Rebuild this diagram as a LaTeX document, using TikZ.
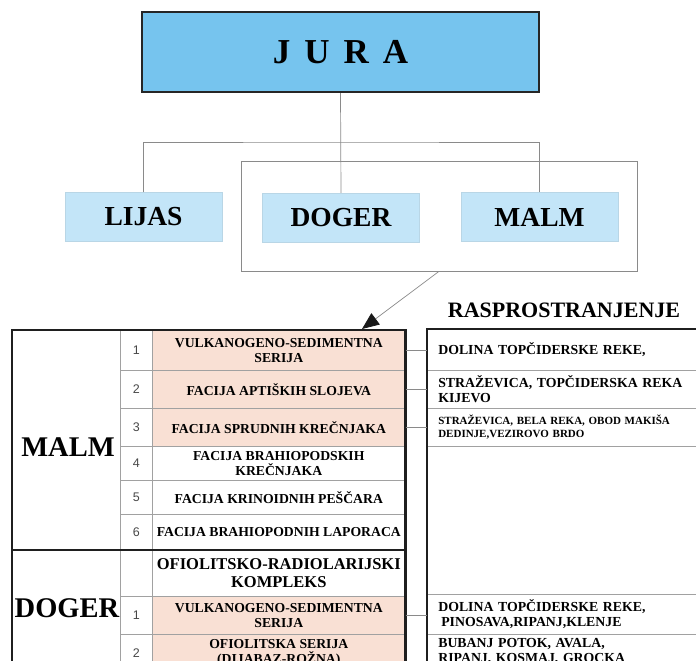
\documentclass[tikz,border=0pt]{standalone}
\usepackage{fontspec}
\setmainfont{Liberation Serif}
\newfontfamily\numfont{Liberation Sans}
\usepackage{xcolor}
\usetikzlibrary{arrows.meta}
\definecolor{JuraBlue}{HTML}{76C4EE}
\definecolor{EraBlue}{HTML}{C3E5F8}
\definecolor{FacPink}{HTML}{F9E0D4}
\definecolor{RuleGray}{HTML}{8A8A8A}
\tikzset{
juracell/.style = {rectangle, fill=JuraBlue, draw=black!85, line width=2.4pt,
                   minimum width=397pt, minimum height=80pt,
                   font=\bfseries\fontsize{35}{38}\selectfont},
era/.style = {rectangle, fill=EraBlue, draw=EraBlue!85!gray,
              minimum width=157pt, minimum height=49pt,
              font=\bfseries\fontsize{27.5}{30}\selectfont},
link/.style = {draw=RuleGray, line width=0.7pt},
thickframe/.style = {draw=black!88, line width=2.4pt}
}
\tikzset{
num/.style = {rectangle, draw=RuleGray!80, line width=0.6pt, minimum width=32pt,
              minimum height=#1, inner sep=0pt, anchor=north west,
              font=\numfont\fontsize{12.5}{14}\selectfont, text=black!72},
fac/.style = {rectangle, draw=RuleGray!80, line width=0.6pt, minimum width=253pt,
              minimum height=#1, inner sep=0pt, anchor=north west, align=center,
              font=\bfseries\fontsize{13.7}{15}\selectfont},
loc/.style = {rectangle, draw=RuleGray!80, line width=0.6pt, text width=271pt,
              inner xsep=11pt, inner ysep=0pt, minimum height=#1,
              anchor=north west, align=left,
              font=\bfseries\fontsize{13.8}{14.5}\selectfont},
bigname/.style = {font=\bfseries\fontsize{28.5}{30}\selectfont}
}

\begin{document}
\begin{tikzpicture}[x=1pt, y=-1pt]
\useasboundingbox (0,0) rectangle (696,661);
\clip (0,0) rectangle (696,661);

% upper part: the period and its epochs
\node[juracell] (jura) at (340.5,52) {J\hspace{14pt}U\hspace{14pt}R\hspace{14pt}A};
\node[era] (lijas) at (143.5,217) {LIJAS};
\node[era] (doger) at (341,217.5) {DOGER};
\node[era] (malm)  at (539.5,217) {MALM};
\node[rectangle, link, minimum width=396pt, minimum height=110pt] (grp) at (439,216) {};
\coordinate (split) at (341,142);
\coordinate (tip) at (362,329);

\draw [link] (jura.south) -- (doger.north);
\draw [link] (lijas.north) |- (split) -| (malm.north);
\draw [link, -{Triangle[length=17pt, width=14pt, color=black!90]}] (grp.south) -- (tip);

% table of facies
\node[num=40pt] (n1) at (120,330) {1};
\node[num=38pt] (n2) at (120,370) {2};
\node[num=38pt] (n3) at (120,408) {3};
\node[num=34pt] (n4) at (120,446) {4};
\node[num=34pt] (n5) at (120,480) {5};
\node[num=36pt] (n6) at (120,514) {6};
\node[num=46pt] (n7) at (120,550) {};
\node[num=38pt] (n8) at (120,596) {1};
\node[num=38pt] (n9) at (120,634) {2};

\node[fac=40pt, fill=FacPink] (m1) at (152,330) {VULKANOGENO-SEDIMENTNA\\SERIJA};
\node[fac=38pt, fill=FacPink] (m2) at (152,370) {FACIJA APTIŠKIH SLOJEVA};
\node[fac=38pt, fill=FacPink] (m3) at (152,408) {FACIJA SPRUDNIH KREČNJAKA};
\node[fac=34pt] (m4) at (152,446) {FACIJA BRAHIOPODSKIH\\KREČNJAKA};
\node[fac=34pt] (m5) at (152,480) {FACIJA KRINOIDNIH PEŠČARA};
\node[fac=36pt] (m6) at (152,514) {FACIJA BRAHIOPODNIH LAPORACA};
\node[fac=46pt, font=\bfseries\fontsize{16.5}{17.5}\selectfont] (d0) at (152,550) {OFIOLITSKO-RADIOLARIJSKI\\KOMPLEKS};
\node[fac=38pt, fill=FacPink] (d1) at (152,596) {VULKANOGENO-SEDIMENTNA\\SERIJA};
\node[fac=38pt, fill=FacPink] (d2) at (152,634) {OFIOLITSKA SERIJA\\(DIJABAZ-ROŽNA)};

\node[bigname] (malmname) at (68,447) {MALM};
\node[bigname] (dogername) at (67,608) {DOGER};

\draw [thickframe] (12,690) |- (m1.north east) -- (d2.south east);
\draw [thickframe] (12,550) -- (d0.north east);

% where the facies are found
\node[font=\bfseries\fontsize{22}{24}\selectfont] (heading) at (564,310) {RASPROSTRANJENJE};
\node[loc=41pt] (r1) at (427,329) {DOLINA TOPČIDERSKE REKE,};
\node[loc=38pt] (r2) at (427,370) {STRAŽEVICA, TOPČIDERSKA REKA\\KIJEVO};
\node[loc=38pt, font=\bfseries\fontsize{11}{12.5}\selectfont] (r3) at (427,408) {STRAŽEVICA, BELA REKA, OBOD MAKIŠA\\DEDINJE,VEZIROVO BRDO};
\node[loc=148pt] (r4) at (427,446) {};
\node[loc=40pt] (r5) at (427,594) {DOLINA TOPČIDERSKE REKE,\\\hspace{3pt}PINOSAVA,RIPANJ,KLENJE};
\node[loc=34pt] (r6) at (427,634) {BUBANJ POTOK, AVALA,\\RIPANJ, KOSMAJ, GROCKA};

\draw [thickframe] (r6.south west) -- (r1.north west) -- (r1.north east);

\draw [link] (m1.east) -- (m1.east -| r1.west);
\draw [link] (m2.east) -- (m2.east -| r2.west);
\draw [link] (m3.east) -- (m3.east -| r3.west);
\draw [link] (d1.east) -- (d1.east -| r5.west);
\end{tikzpicture}
\end{document}
